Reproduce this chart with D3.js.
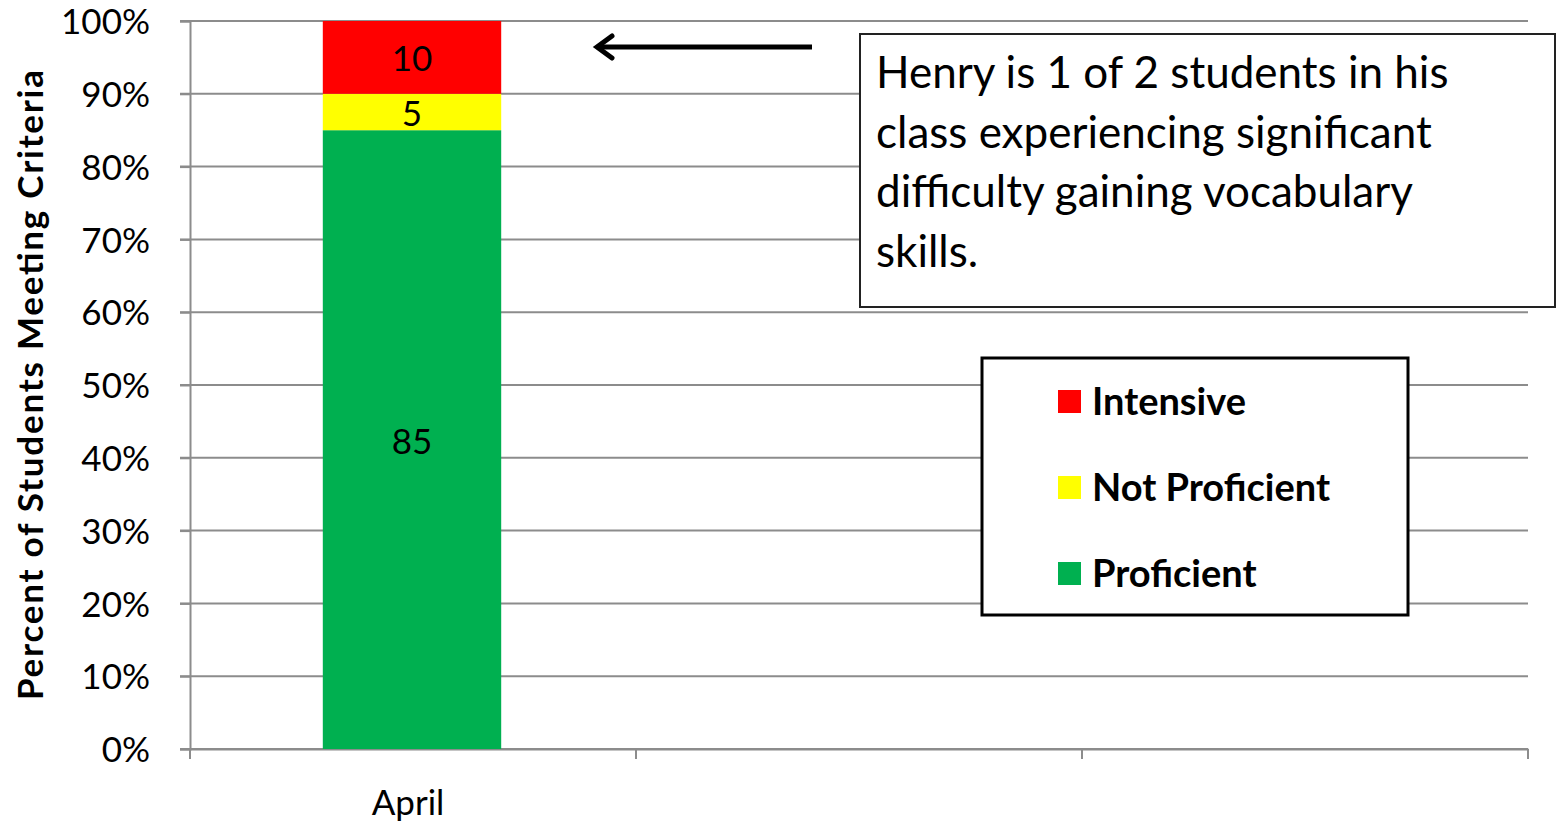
<!DOCTYPE html>
<html><head><meta charset="utf-8">
<script src="https://cdn.jsdelivr.net/npm/d3@7"></script>
<style>body{margin:0;background:#fff}svg{display:block}</style>
</head><body>
<svg id="c" width="1559" height="823"></svg>
<script>
const categories = ["April", "", ""];
const seriesNames = ["Proficient", "Not Proficient", "Intensive"];
const seriesColors = ["#00B050", "#FFFF00", "#FF0000"];
const proficient = [85, null, null];
const notProficient = [5, null, null];
const intensive = [10, null, null];
const yTicks = [0, 10, 20, 30, 40, 50, 60, 70, 80, 90, 100];
const yTitle = "Percent of Students Meeting  Criteria";
const noteLines = ["Henry is 1 of 2 students in his", "class experiencing significant", "difficulty gaining vocabulary", "skills."];

const FONT = "Lato, 'Open Sans', sans-serif";
const svg = d3.select("#c");
const L = 190, R = 1528, T = 21, B = 749;

const x = d3.scaleBand().domain(d3.range(categories.length)).range([L, R]).paddingInner(0).paddingOuter(0);
const y = d3.scaleLinear().domain([0, 100]).range([B, T]);

// gridlines
svg.append("g").selectAll("line").data(yTicks).join("line")
  .attr("x1", L - 10).attr("x2", R).attr("y1", d => y(d)).attr("y2", d => y(d))
  .attr("stroke", "#8c8c8c").attr("stroke-width", 2);

// y axis
const yAxis = svg.append("g").attr("transform", `translate(${L},0)`)
  .call(d3.axisLeft(y).tickValues(yTicks).tickFormat(d => d + "%").tickSize(10).tickPadding(30));
yAxis.select(".domain").attr("stroke", "#8c8c8c").attr("stroke-width", 2);
yAxis.selectAll(".tick line").attr("stroke", "#8c8c8c").attr("stroke-width", 2);
yAxis.selectAll("text").attr("font-family", FONT).attr("font-size", 35).attr("fill", "#000").attr("dy", "0.36em");

// x axis
const xAxis = svg.append("g").attr("transform", `translate(0,${B})`)
  .call(d3.axisBottom(x).tickFormat(i => categories[i]).tickSize(0).tickPadding(41));
xAxis.select(".domain").attr("stroke", "#8c8c8c").attr("stroke-width", 2);
xAxis.selectAll("text").attr("font-family", FONT).attr("font-size", 35).attr("fill", "#000").attr("dx", -5);
// category boundary ticks
const bounds = d3.range(categories.length + 1).map(i => i < categories.length ? x(i) : x(categories.length - 1) + x.bandwidth());
svg.append("g").selectAll("line").data(bounds).join("line")
  .attr("x1", d => d).attr("x2", d => d).attr("y1", B).attr("y2", B + 10)
  .attr("stroke", "#8c8c8c").attr("stroke-width", 2);

// stacked bars
const rows = categories.map((c, i) => ({i, Proficient: proficient[i], "Not Proficient": notProficient[i], Intensive: intensive[i]}));
const stack = d3.stack().keys(seriesNames).value((d, k) => d[k] || 0)(rows);
const bw = x.bandwidth() * 0.4;
stack.forEach((s, si) => {
  const g = svg.append("g");
  s.forEach((d, i) => {
    if (rows[i][seriesNames[si]] == null) return;
    const cx = x(i) + x.bandwidth() / 2 - 1;
    g.append("rect").attr("x", cx - bw / 2).attr("width", bw)
      .attr("y", y(d[1])).attr("height", y(d[0]) - y(d[1])).attr("fill", seriesColors[si]);
    g.append("text").attr("x", cx).attr("y", (y(d[0]) + y(d[1])) / 2).attr("dy", "0.4em")
      .attr("text-anchor", "middle").attr("font-family", FONT).attr("font-size", 35).attr("fill", "#000")
      .text(rows[i][seriesNames[si]]);
  });
});

// y title
svg.append("text").attr("transform", `translate(43,${385}) rotate(-90)`)
  .attr("text-anchor", "middle").attr("font-family", FONT).attr("font-weight", "bold")
  .attr("font-size", 35).attr("fill", "#000")
  .attr("textLength", 630).attr("lengthAdjust", "spacing").text(yTitle);

// arrow
svg.append("line").attr("x1", 812).attr("x2", 598).attr("y1", 47).attr("y2", 47)
  .attr("stroke", "#000").attr("stroke-width", 5);
svg.append("path").attr("d", "M612,36 L597,47 L612,58").attr("fill", "none")
  .attr("stroke", "#000").attr("stroke-width", 5).attr("stroke-linejoin", "miter").attr("stroke-linecap", "round");

// note box
svg.append("rect").attr("x", 860).attr("y", 34).attr("width", 695).attr("height", 273)
  .attr("fill", "#fff").attr("stroke", "#222").attr("stroke-width", 2);
svg.append("g").selectAll("text").data(noteLines).join("text")
  .attr("x", 876).attr("y", (d, i) => 88 + i * 59.7)
  .attr("font-family", FONT).attr("font-size", 44).attr("fill", "#000").text(d => d);

// legend
svg.append("rect").attr("x", 982).attr("y", 358).attr("width", 426).attr("height", 257)
  .attr("fill", "#fff").attr("stroke", "#000").attr("stroke-width", 3);
const legendOrder = [2, 1, 0];
legendOrder.forEach((si, k) => {
  const cy = 401 + k * 86;
  svg.append("rect").attr("x", 1058).attr("y", cy - 11).attr("width", 23).attr("height", 23).attr("fill", seriesColors[si]);
  svg.append("text").attr("x", 1092).attr("y", cy).attr("dy", "0.36em")
    .attr("font-family", FONT).attr("font-weight", "bold").attr("font-size", 38).attr("fill", "#000").text(seriesNames[si]);
});
</script>
</body></html>
